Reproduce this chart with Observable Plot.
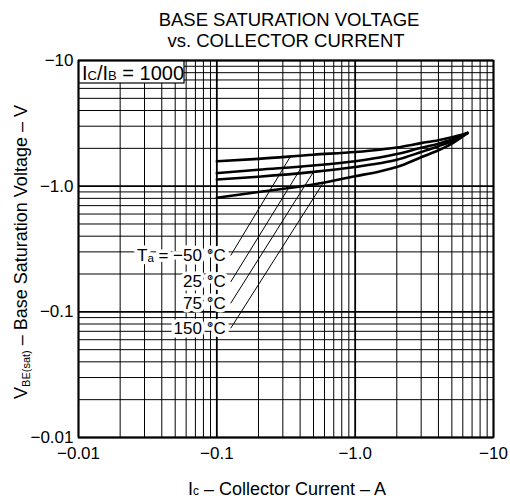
<!DOCTYPE html>
<html><head><meta charset="utf-8">
<script src="https://cdn.jsdelivr.net/npm/d3@7"></script>
<script src="https://cdn.jsdelivr.net/npm/@observablehq/plot@0.6"></script>
<style>
body{margin:0;background:#fff;}
#chart{width:510px;height:503px;}
</style></head>
<body><div id="chart"></div>
<script>
// ---- data ----
const decades = [0.01, 0.1, 1, 10];
const multipliers = [2, 3, 4, 5, 6, 7, 8, 9];
const xTickValues = [0.01, 0.1, 1, 10];
const xTickLabels = ["\u22120.01", "\u22120.1", "\u22121.0", "\u221210"];
const yTickValues = [0.01, 0.1, 1, 10];
const yTickLabels = ["\u22120.01", "\u22120.1", "\u22121.0", "\u221210"];

const seriesNames = ["-50", "25", "75", "150"];
const currents = [0.1, 0.2, 0.5, 1, 1.5, 2, 3, 4, 5, 6.5];
const vM50  = [1.58, 1.65, 1.78, 1.87, 1.95, 2.03, 2.20, 2.32, 2.45, 2.65];
const v25   = [1.27, 1.35, 1.46, 1.58, 1.69, 1.80, 2.02, 2.18, 2.35, 2.65];
const v75   = [1.13, 1.19, 1.30, 1.42, 1.52, 1.62, 1.87, 2.08, 2.28, 2.65];
const v150  = [0.81, 0.90, 1.03, 1.20, 1.31, 1.42, 1.70, 1.93, 2.18, 2.65];
const seriesValues = [vM50, v25, v75, v150];

const labelTexts = ["T\u2090 = \u221250 \u00B0C", "25 \u00B0C", "75 \u00B0C", "150 \u00B0C"];
const labelX = [0.126, 0.126, 0.126, 0.126];
const labelY = [0.281, 0.173, 0.117, 0.074];
const leaderX = [0.34, 0.41, 0.50, 0.59];
const leaderY = [1.72, 1.42, 1.30, 1.07];

const titleLines = ["BASE SATURATION VOLTAGE", "vs. COLLECTOR CURRENT"];

// ---- build tables ----
const curves = [];
seriesNames.forEach((s, k) => currents.forEach((c, i) => curves.push({series: s, x: c, y: seriesValues[k][i]})));
const minor = [];
decades.slice(0, 3).forEach(d => multipliers.forEach(m => minor.push(d * m)));
const leaders = labelTexts.map((t, i) => ({text: t, x1: labelX[i], y1: labelY[i], x2: leaderX[i], y2: leaderY[i]}));
const xFmt = new Map(xTickValues.map((v, i) => [v, xTickLabels[i]]));
const yFmt = new Map(yTickValues.map((v, i) => [v, yTickLabels[i]]));

const font = "'Liberation Sans', Arial, Helvetica, sans-serif";

const chart = Plot.plot({
  width: 510, height: 503,
  marginLeft: 78, marginRight: 17, marginTop: 60, marginBottom: 66,
  style: {fontFamily: font, fontSize: "14px", background: "white", color: "black"},
  x: {type: "log", domain: [0.01, 10]},
  y: {type: "log", domain: [0.01, 10]},
  marks: [
    Plot.ruleX(minor, {stroke: "black", strokeWidth: 1}),
    Plot.ruleY(minor, {stroke: "black", strokeWidth: 1}),
    Plot.ruleX(decades, {stroke: "black", strokeWidth: 1.8}),
    Plot.ruleY(decades, {stroke: "black", strokeWidth: 1.8}),
    Plot.link(leaders, {x1: "x1", y1: "y1", x2: "x2", y2: "y2", stroke: "black", strokeWidth: 1}),
    Plot.text(leaders, {x: "x1", y: "y1", text: "text", textAnchor: "end", dx: -5, fontSize: 17, fill: "black", stroke: "white", strokeWidth: 7, strokeLinejoin: "round"}),
    Plot.line(curves, {x: "x", y: "y", z: "series", stroke: "black", strokeWidth: 2.6, curve: "monotone-x"}),
    Plot.frame({stroke: "black", strokeWidth: 1.6}),
    Plot.axisX({ticks: xTickValues, tickFormat: d => xFmt.get(d), tickSize: 0, tickPadding: 9, label: null, fontSize: 17}),
    Plot.axisY({ticks: yTickValues, tickFormat: d => yFmt.get(d), tickSize: 0, tickPadding: 5, label: null, fontSize: 17}),
    Plot.text([titleLines[0]], {frameAnchor: "top", text: d => d, dy: -48, dx: 3, fontSize: 18.5, fill: "black"}),
    Plot.text([titleLines[1]], {frameAnchor: "top", text: d => d, dy: -27, dx: 0, fontSize: 18.5, fill: "black"})
  ]
});
document.getElementById("chart").appendChild(chart);

const svg = d3.select(chart);

// Ic/IB box
const g = svg.append("g").attr("font-family", font).attr("fill", "black");
g.append("rect").attr("x", 79).attr("y", 61).attr("width", 105).attr("height", 22).attr("fill", "white").attr("stroke", "black").attr("stroke-width", 1.2);
const tb = g.append("text").attr("x", 82).attr("y", 80).attr("font-size", 20).attr("text-anchor", "start");
tb.append("tspan").text("I");
tb.append("tspan").attr("font-size", 13).text("C");
tb.append("tspan").text("/I");
tb.append("tspan").attr("font-size", 13).text("B");
tb.append("tspan").text(" = 1000");

// x axis label
const xl = g.append("text").attr("x", 287).attr("y", 495).attr("text-anchor", "middle").attr("font-size", 18);
xl.append("tspan").text("I");
xl.append("tspan").attr("font-size", 12).text("c");
xl.append("tspan").text(" \u2013 Collector Current \u2013 A");

// y axis label
const yl = g.append("text").attr("transform", "translate(27,252) rotate(-90)").attr("text-anchor", "middle").attr("font-size", 18);
yl.append("tspan").text("V");
yl.append("tspan").attr("font-size", 11).attr("dy", 3).text("BE(sat)");
yl.append("tspan").attr("dy", -3).text(" \u2013 Base Saturation Voltage \u2013 V");
</script>
</body></html>
